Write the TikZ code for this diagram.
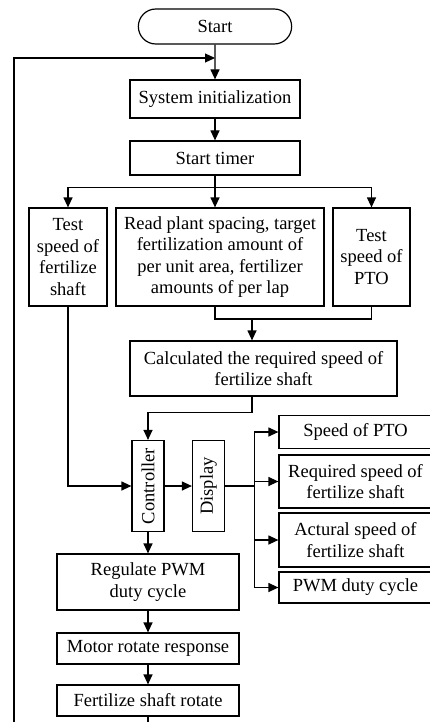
\documentclass[tikz,border=0pt]{standalone}
\usepackage{fontspec}
\setmainfont{Liberation Serif}
\usepackage{graphicx}
\usetikzlibrary{shapes.misc,arrows.meta}
\pgfdeclarelayer{edgelayer}
\pgfdeclarelayer{nodelayer}
\pgfsetlayers{edgelayer,nodelayer,main}
\tikzstyle{block}=[rectangle, fill=white, draw=black, line width=1.2pt, align=center, inner sep=1pt]
\tikzstyle{terminal}=[rounded rectangle, fill=white, draw=black, line width=1.2pt]
\tikzstyle{arrow}=[-{Triangle[length=10pt,width=9pt]}, draw=black, line width=1.2pt]
\tikzstyle{line}=[-, draw=black, line width=1.2pt]

\begin{document}
\begin{tikzpicture}[x=1pt, y=-1pt, font=\fontsize{18.5}{21.5}\selectfont]
    \useasboundingbox (0,0) rectangle (430,722);
    \begin{pgfonlayer}{nodelayer}
        \node [style=terminal, minimum width=160pt, minimum height=35pt] (start) at (215, 26.5) {Start};
        \node [style=block, minimum width=170pt, minimum height=38pt] (init) at (215, 99) {System initialization};
        \node [style=block, minimum width=170pt, minimum height=34pt] (timer) at (215, 158) {Start timer};

        \node [style=block, minimum width=78pt, minimum height=98pt] (tshaft) at (68, 257) {Test\\speed of\\fertilize\\shaft};
        \node [style=block, minimum width=208pt, minimum height=98pt] (readp) at (220, 257) {Read plant spacing, target\\fertilization amount of\\per unit area, fertilizer\\amounts of per lap};
        \node [style=block, minimum width=77pt, minimum height=98pt] (tpto) at (371.5, 257) {Test\\speed of\\PTO};
        \node [style=block, minimum width=267pt, minimum height=55pt] (calc) at (263.5, 368.5) {Calculated the required speed of\\fertilize shaft};

        \node [style=block, minimum width=32pt, minimum height=91pt] (ctrl) at (148, 486) {\rotatebox{90}{Controller}};
        \node [style=block, minimum width=32pt, minimum height=91pt] (disp) at (208.5, 486) {\rotatebox{90}{Display}};

        \node [style=block, minimum width=153pt, minimum height=33pt] (spto) at (355.5, 432) {Speed of PTO};
        \node [style=block, minimum width=153pt, minimum height=53pt] (rspeed) at (355.5, 481.5) {Required speed of\\fertilize shaft};
        \node [style=block, minimum width=153pt, minimum height=54pt] (aspeed) at (355.5, 540) {Actural speed of\\fertilize shaft};
        \node [style=block, minimum width=153pt, minimum height=31pt] (pwmdc) at (355.5, 587.5) {PWM duty cycle};

        \node [style=block, minimum width=182pt, minimum height=56pt] (reg) at (148, 582) {Regulate PWM\\duty cycle};
        \node [style=block, minimum width=182pt, minimum height=31pt] (motor) at (148, 648.5) {Motor rotate response};
        \node [style=block, minimum width=182pt, minimum height=31pt] (fsr) at (148, 700.5) {Fertilize shaft rotate};

        \coordinate (back) at (215, 58);
        \coordinate (merge) at (252, 319);
        \coordinate (loop) at (14, 760);
    \end{pgfonlayer}
    \begin{pgfonlayer}{edgelayer}
        \draw [style=arrow] (start) to (init);
        \draw [style=arrow] (init) to (timer);
        \draw [style=line] (timer.south) -- ++(0,12) coordinate (split);
        \draw [style=arrow] (split) -| (tshaft.north);
        \draw [style=arrow] (split) -| (tpto.north);
        \draw [style=arrow] (split) -- (split |- readp.north);

        \draw [style=line] (split |- readp.south) |- (merge) -| (tpto.south);
        \draw [style=arrow] (merge) -- (merge |- calc.north);
        \draw [style=arrow] (merge |- calc.south) -- ++(0,16) -| (ctrl.north);
        \draw [style=arrow] (tshaft.south) |- (ctrl.west);
        \draw [style=arrow] (ctrl) to (disp);

        \draw [style=line] (disp.east) -- ++(29,0) coordinate (fan);
        \draw [style=arrow] (fan) |- (spto.west);
        \draw [style=arrow] (fan) |- (rspeed.west);
        \draw [style=arrow] (fan) |- (aspeed.west);
        \draw [style=arrow] (fan) |- (pwmdc.west);

        \draw [style=arrow] (ctrl) to (reg);
        \draw [style=arrow] (reg) to (motor);
        \draw [style=arrow] (motor) to (fsr);
        \draw [style=arrow] (fsr.south) |- (loop) |- (back);
    \end{pgfonlayer}
\end{tikzpicture}
\end{document}
